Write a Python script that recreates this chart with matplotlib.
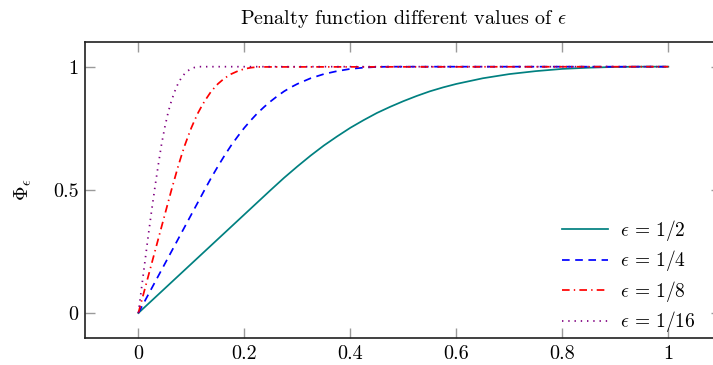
import matplotlib
matplotlib.use("Agg")
import matplotlib.pyplot as plt

# values
x_half = [0, 0.05, 0.1, 0.15, 0.2, 0.25, 0.275, 0.3, 0.325, 0.35, 0.375, 0.4, 0.425, 0.45, 0.475, 0.5,
          0.525, 0.55, 0.575, 0.6, 0.65, 0.7, 0.75, 0.8, 0.85, 0.9, 0.95, 1.0]
y_half = [0, 0.10, 0.20, 0.30, 0.40, 0.50, 0.549, 0.595, 0.639, 0.68, 0.717, 0.752, 0.783, 0.812, 0.837, 0.86,
          0.881, 0.90, 0.916, 0.93, 0.953, 0.97, 0.982, 0.991, 0.996, 0.999, 1.0, 1.0]

x_quarter = [0, 0.025, 0.05, 0.075, 0.1, 0.125, 0.1375, 0.15, 0.1625, 0.175, 0.1875, 0.2, 0.2125, 0.225, 0.2375,
             0.25, 0.2625, 0.275, 0.2875, 0.3, 0.325, 0.35, 0.375, 0.4, 0.425, 0.45, 0.475, 1.0]
y_quarter = [0, 0.10, 0.20, 0.30, 0.40, 0.50, 0.549, 0.595, 0.639, 0.68, 0.717, 0.752, 0.783, 0.812, 0.837,
             0.86, 0.881, 0.90, 0.916, 0.93, 0.953, 0.97, 0.982, 0.991, 0.996, 0.999, 1.0, 1.0]

x_eighth = [0, 0.0125, 0.025, 0.0375, 0.05, 0.0625, 0.075, 0.0813, 0.0875, 0.0938, 0.1, 0.1063, 0.1125,
            0.1188, 0.125, 0.1375, 0.15, 0.1625, 0.175, 0.1875, 0.2, 0.2125, 0.225, 1.0]
y_eighth = [0, 0.10, 0.20, 0.30, 0.40, 0.50, 0.595, 0.639, 0.68, 0.717, 0.752, 0.783, 0.812,
            0.837, 0.86, 0.90, 0.93, 0.953, 0.97, 0.982, 0.991, 0.996, 0.999, 1.0]

x_sixteenth = [0, 0.00625, 0.0125, 0.01875, 0.025, 0.03125, 0.0375, 0.04375, 0.05, 0.05625, 0.0625,
               0.06875, 0.075, 0.08125, 0.0875, 0.09375, 0.1, 0.10625, 0.1125, 1.0]
y_sixteenth = [0, 0.105, 0.21, 0.315, 0.415, 0.51, 0.60, 0.685, 0.755, 0.815, 0.862,
               0.90, 0.932, 0.955, 0.972, 0.984, 0.992, 0.997, 1.0, 1.0]

labels = [r'$\epsilon\,=\,1/2$', r'$\epsilon\,=\,1/4$', r'$\epsilon\,=\,1/8$', r'$\epsilon\,=\,1/16$']
xticks = [0, 0.2, 0.4, 0.6, 0.8, 1]
xtick_labels = ['0', '0.2', '0.4', '0.6', '0.8', '1']
yticks = [0, 0.5, 1]
ytick_labels = ['0', '0.5', '1']

# tex-like look
plt.rcParams['font.family'] = 'cmr10'
plt.rcParams['mathtext.fontset'] = 'cm'
plt.rcParams['axes.formatter.use_mathtext'] = True
plt.rcParams['lines.scale_dashes'] = False
plt.rcParams['font.size'] = 14

fig = plt.figure(figsize=(7.13, 3.65), dpi=100)
ax = fig.add_axes([0.1197, 0.0748, 0.892, 0.810])

ax.plot(x_half, y_half, color='#008080', lw=1.25, label=labels[0])
ax.plot(x_quarter, y_quarter, color='#0000ff', lw=1.25, linestyle=(0, (5.5, 4)), label=labels[1])
ax.plot(x_eighth, y_eighth, color='#ff0000', lw=1.25, linestyle=(0, (5.5, 3, 1, 3)), label=labels[2])
ax.plot(x_sixteenth, y_sixteenth, color='#800080', lw=1.25, linestyle=(0, (1, 3.5)), label=labels[3])

ax.set_xlim(-0.1, 1.1)
ax.set_ylim(-0.1, 1.1)
ax.set_xticks(xticks)
ax.set_xticklabels(xtick_labels, fontsize=14.5)
ax.set_yticks(yticks)
ax.set_yticklabels(ytick_labels, fontsize=14.5)
ax.tick_params(direction='in', length=7.5, width=1.0, color='#9a9a9a',
               top=True, right=True, pad=5)

for s in ax.spines.values():
    s.set_linewidth(1.2)
    s.set_color('#202020')

ax.set_title(r'Penalty function different values of $\epsilon$', fontsize=14.5, pad=13)
ax.set_ylabel(r'$\Phi_\epsilon$', fontsize=14.5, labelpad=14)

ax.legend(loc='lower right', bbox_to_anchor=(0.972, -0.015), borderaxespad=0,
          frameon=False, handlelength=2.4, handletextpad=0.6, labelspacing=0.28)

fig.savefig('out.png', dpi=100)
